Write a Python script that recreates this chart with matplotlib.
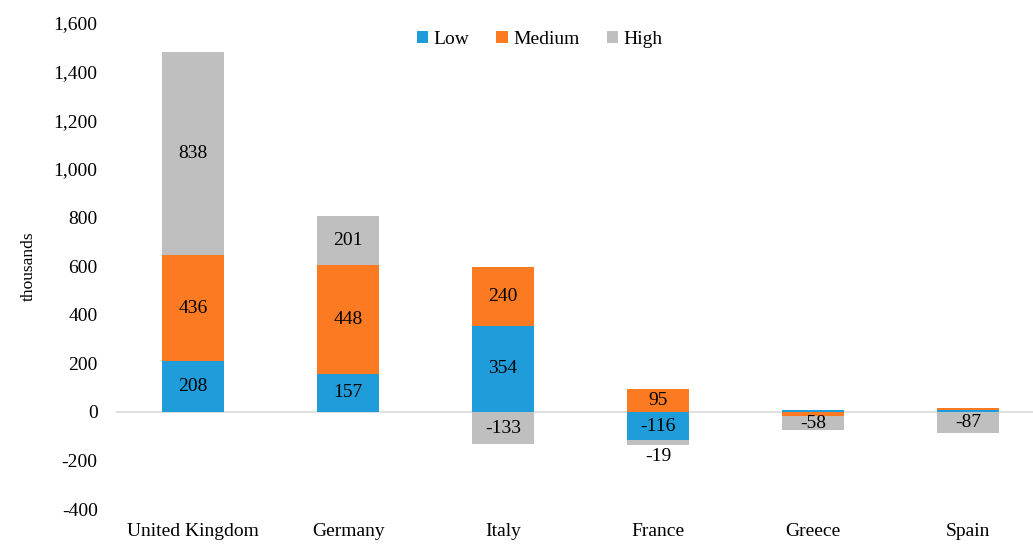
import numpy as np
import matplotlib
matplotlib.use("Agg")
import matplotlib.pyplot as plt

plt.rcParams["font.family"] = ["Liberation Serif", "DejaVu Serif"]

countries = ["United Kingdom", "Germany", "Italy", "France", "Greece", "Spain"]
low = [208, 157, 354, -116, 7, 8]
medium = [436, 448, 240, 95, -17, 8]
high = [838, 201, -133, -19, -58, -87]
series_names = ["Low", "Medium", "High"]
colors = ["#1F9CDA", "#FC7B22", "#BFBFBF"]

fig = plt.figure(figsize=(10.33, 5.44), dpi=100)
ax = fig.add_axes([0.112, 0.064, 0.888, 0.894])

x = np.arange(len(countries))
width = 0.4
fs = 14
pos_base = np.zeros(len(countries))
neg_base = np.zeros(len(countries))
for name, vals, col in zip(series_names, [low, medium, high], colors):
    vals = np.array(vals, dtype=float)
    base = np.where(vals >= 0, pos_base, neg_base)
    ax.bar(x, vals, width, bottom=base, color=col, label=name, zorder=2)
    for xi, b, v in zip(x, base, vals):
        if abs(v) < 19:
            continue
        if abs(v) < 40:
            # small segment: label sits just outside the bar
            ax.text(xi, b + v - 14, "%d" % v, ha="center", va="top", fontsize=fs)
        else:
            ax.text(xi, b + v / 2, "%d" % v, ha="center", va="center", fontsize=fs)
    pos_base = pos_base + np.where(vals >= 0, vals, 0)
    neg_base = neg_base + np.where(vals < 0, vals, 0)

ax.axhline(0, color="#D9D9D9", lw=1.2, zorder=1)
ax.set_xlim(-0.5, 5.42)
ax.set_ylim(-400, 1600)
ax.set_yticks(np.arange(-400, 1601, 200))
ax.set_yticklabels(["{:,}".format(v) for v in range(-400, 1601, 200)], fontsize=fs)
ax.set_xticks(x)
ax.set_xticklabels(countries, fontsize=fs)
ax.tick_params(length=0, axis="y", pad=13)
ax.tick_params(length=0, axis="x", pad=10)
for s in ax.spines.values():
    s.set_visible(False)
ax.set_ylabel("thousands", fontsize=12.5, labelpad=12)

ax.legend(loc="upper center", bbox_to_anchor=(0.462, 1.02), ncol=3, frameon=False,
          fontsize=fs, handlelength=0.6, handleheight=0.6, handletextpad=0.25,
          columnspacing=1.4)

fig.savefig("out.png", dpi=100, facecolor="white")
